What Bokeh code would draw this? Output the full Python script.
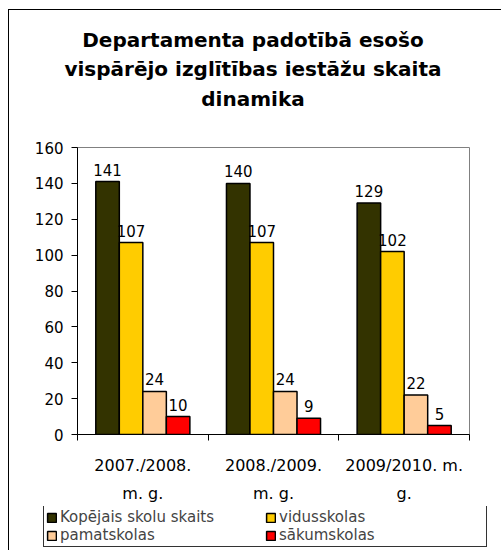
from bokeh.plotting import figure
from bokeh.models import (ColumnDataSource, Range1d, FixedTicker, Legend, LegendItem, LabelSet)
from bokeh.layouts import column
from bokeh.core.properties import value
from bokeh.transform import dodge
from bokeh.embed import file_html
from bokeh.resources import INLINE

# ---- data ----
title_lines = ["Departamenta padotībā esošo", "vispārējo izglītības iestāžu skaita", "dinamika"]
categories = ["2007./2008.\nm. g.", "2008./2009.\nm. g.", "2009/2010. m.\ng."]
series_names = ["Kopējais skolu skaits", "vidusskolas", "pamatskolas", "sākumskolas"]
kopejais = [141, 140, 129]
vidusskolas = [107, 107, 102]
pamatskolas = [24, 24, 22]
sakumskolas = [10, 9, 5]
y_ticks = [0, 20, 40, 60, 80, 100, 120, 140, 160]

# ---- style ----
colors = ["#333300", "#FFCC00", "#FFCC99", "#FF0000"]
offsets = [-0.27, -0.09, 0.09, 0.27]
bar_w = 0.18
FONT = "DejaVu Sans"
W = 492

series_values = [kopejais, vidusskolas, pamatskolas, sakumskolas]
keys = ["s0", "s1", "s2", "s3"]
xc = [i + 0.5 for i in range(len(categories))]
data = {"x": xc}
for k, vals in zip(keys, series_values):
    data[k] = vals
    data[k + "_t"] = [str(v) for v in vals]
src = ColumnDataSource(data)

# ---------- title strip ----------
TH = 104
tf = figure(width=W, height=TH, x_range=Range1d(0, W), y_range=Range1d(0, TH),
            x_axis_type=None, y_axis_type=None, output_backend="svg",
            toolbar_location=None, min_border=0, outline_line_color=None,
            frame_align=False)
tf.grid.visible = False
title_src = ColumnDataSource({"t": title_lines,
                              "x": [243.5] * len(title_lines),
                              "y": [75, 45.5, 16][:len(title_lines)]})
tf.text(x="x", y="y", text="t", source=title_src, text_align="center",
        text_baseline="middle", text_font=value(FONT), text_font_style="bold",
        text_font_size=value("20px"), text_color="black")

# ---------- main chart ----------
p = figure(width=W, height=392, x_range=Range1d(0, len(categories)),
           y_range=Range1d(y_ticks[0], y_ticks[-1]),
           output_backend="svg", toolbar_location=None,
           min_border_left=68, min_border_right=32, min_border_top=33,
           min_border_bottom=71)
p.xgrid.visible = False
p.ygrid.visible = False
p.outline_line_color = "#808080"
p.outline_line_width = 1

for j, k in enumerate(keys):
    p.vbar(x=dodge("x", offsets[j], range=p.x_range), top=k, width=bar_w,
           source=src, fill_color=colors[j], line_color="black", line_width=1.5)
    ls = LabelSet(x=dodge("x", offsets[j], range=p.x_range), y=k, text=k + "_t",
                  source=src, text_align="center", text_baseline="bottom",
                  y_offset=6, text_font=value(FONT), text_font_size=value("15px"),
                  text_color="black")
    p.add_layout(ls)

p.yaxis.ticker = FixedTicker(ticks=y_ticks)
p.yaxis.minor_tick_line_color = None
p.yaxis.major_tick_in = 0
p.yaxis.major_tick_out = 6
p.yaxis.axis_line_color = "black"
p.yaxis.major_tick_line_color = "black"
p.yaxis.major_label_standoff = 8
p.yaxis.major_label_text_font = FONT
p.yaxis.major_label_text_font_size = "15px"
p.yaxis.major_label_text_color = "black"

p.xaxis.ticker = FixedTicker(ticks=xc, minor_ticks=list(range(len(categories) + 1)))
p.xaxis.major_label_overrides = {x: c for x, c in zip(xc, categories)}
p.xaxis.major_tick_line_color = None
p.xaxis.major_tick_in = 0
p.xaxis.major_tick_out = 0
p.xaxis.minor_tick_in = 0
p.xaxis.minor_tick_out = 6
p.xaxis.minor_tick_line_color = "black"
p.xaxis.axis_line_color = "black"
p.xaxis.major_label_standoff = 15
p.xaxis.major_label_text_font = FONT
p.xaxis.major_label_text_font_size = "16px"
p.xaxis.major_label_text_color = "black"
p.xaxis.major_label_text_line_height = 1.5

# ---------- legend strip ----------
# swatch renderers: same series, squashed flat behind the legend's white box
LH = 44
lf = figure(width=W, height=LH, x_range=Range1d(-1, len(categories) + 1),
            y_range=Range1d(-100000, 100000),
            x_axis_type=None, y_axis_type=None, output_backend="svg",
            toolbar_location=None, min_border=0, outline_line_color=None,
            frame_align=False)
lf.grid.visible = False
leg_renderers = [lf.vbar(x=dodge("x", offsets[j], range=lf.x_range), top=k, width=bar_w,
                         source=src, fill_color=colors[j], line_color="black",
                         line_width=1.5)
                 for j, k in enumerate(keys)]
order = [0, 2, 1, 3]  # column-major fill -> rows: (0,1), (2,3)
legend = Legend(items=[LegendItem(label=series_names[i], renderers=[leg_renderers[i]]) for i in order],
                ncols=2, location=(34, 3),
                label_text_font=FONT, label_text_font_size="15px",
                glyph_width=11, glyph_height=11, label_standoff=3, spacing=0,
                padding=2, margin=0, label_height=15, label_width=205,
                border_line_color="#333333", border_line_width=1, border_line_alpha=1,
                background_fill_color="white", background_fill_alpha=1)
lf.add_layout(legend)

layout = column(tf, p, lf, spacing=0)
layout.styles = {"margin-left": "8px", "margin-top": "9px",
                 "border-left": "1px solid black", "border-top": "1px solid black"}

open("out.html", "w").write(file_html(layout, INLINE))
